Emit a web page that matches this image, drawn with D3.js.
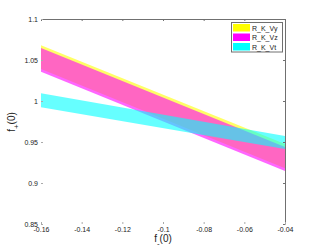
<!DOCTYPE html>
<html>
<head>
<meta charset="utf-8">
<script src="https://cdn.jsdelivr.net/npm/d3@7"></script>
<style>
  body { margin: 0; background: #fff; }
  text { font-family: "Liberation Sans", Arial, sans-serif; fill: #222; }
</style>
</head>
<body>
<script>
// band ends at f_-(0) = -0.16 and -0.04
var fMinus = [-0.16, -0.04];
var vyUpper = [1.068, 0.9476];
var vyLower = [1.039, 0.918];
var vzUpper = [1.0646, 0.944];
var vzLower = [1.0357, 0.9146];
var vtUpper = [1.0094, 0.9573];
var vtLower = [0.9923, 0.9415];

var seriesNames = ["R_K_Vy", "R_K_Vz", "R_K_Vt"];
var seriesColors = ["#ffff00", "#ff00ff", "#00ffff"];

var xTicks = [-0.16, -0.14, -0.12, -0.1, -0.08, -0.06, -0.04];
var xTickLabels = ["-0.16", "-0.14", "-0.12", "-0.1", "-0.08", "-0.06", "-0.04"];
var yTicks = [0.85, 0.9, 0.95, 1, 1.05, 1.1];
var yTickLabels = ["0.85", "0.9", "0.95", "1", "1.05", "1.1"];

var width = 315;
var height = 252;
var plotLeft = 41, plotRight = 285, plotTop = 19, plotBottom = 224;

var svg = d3.select("body").append("svg")
    .attr("width", width)
    .attr("height", height);

var xScale = d3.scaleLinear().domain([-0.16, -0.04]).range([plotLeft, plotRight]);
var yScale = d3.scaleLinear().domain([0.85, 1.1]).range([plotBottom, plotTop]);

var bands = [
    { upper: vyUpper, lower: vyLower },
    { upper: vzUpper, lower: vzLower },
    { upper: vtUpper, lower: vtLower }
];

var area = d3.area()
    .x(d => xScale(d.x))
    .y0(d => yScale(d.lo))
    .y1(d => yScale(d.hi));

bands.forEach(function (b, i) {
    var pts = fMinus.map((x, j) => ({ x: x, hi: b.upper[j], lo: b.lower[j] }));
    svg.append("path")
        .datum(pts)
        .attr("fill", seriesColors[i])
        .attr("fill-opacity", 0.6)
        .attr("stroke", "none")
        .attr("d", area);
});

// top and right box lines with inward ticks
var topAxis = svg.append("g")
    .attr("transform", "translate(0," + plotTop + ")")
    .call(d3.axisBottom(xScale).tickValues(xTicks).tickSize(2).tickSizeOuter(0).tickFormat(""));
var rightAxis = svg.append("g")
    .attr("transform", "translate(" + plotRight + ",0)")
    .call(d3.axisLeft(yScale).tickValues(yTicks).tickSize(2).tickSizeOuter(0).tickFormat(""));
[topAxis, rightAxis].forEach(function (g) {
    g.select(".domain").attr("stroke", "#707070");
    g.selectAll(".tick line").attr("stroke", "#707070");
});

// left and bottom: labels and faint ticks only
var leftAxis = svg.append("g")
    .attr("transform", "translate(" + plotLeft + ",0)")
    .call(d3.axisRight(yScale).tickValues(yTicks).tickSize(2)
        .tickFormat((d, i) => yTickLabels[i]));
leftAxis.select(".domain").remove();
leftAxis.selectAll(".tick line").attr("stroke", "#aaa");
leftAxis.selectAll(".tick text")
    .attr("x", -3)
    .attr("text-anchor", "end")
    .attr("font-size", 7)
    .attr("font-family", "Liberation Sans, Arial, sans-serif");

var bottomAxis = svg.append("g")
    .attr("transform", "translate(0," + plotBottom + ")")
    .call(d3.axisTop(xScale).tickValues(xTicks).tickSize(2)
        .tickFormat((d, i) => xTickLabels[i]));
bottomAxis.select(".domain").remove();
bottomAxis.selectAll(".tick line").attr("stroke", "#aaa");
bottomAxis.selectAll(".tick text")
    .attr("y", 8)
    .attr("dy", 0)
    .attr("font-size", 7)
    .attr("font-family", "Liberation Sans, Arial, sans-serif");

// axis titles
var xTitle = svg.append("text")
    .attr("x", 163)
    .attr("y", 242)
    .attr("text-anchor", "middle")
    .attr("font-size", 10);
xTitle.append("tspan").text("f");
xTitle.append("tspan").attr("font-size", 8).attr("dy", 4).text("-");
xTitle.append("tspan").attr("dy", -4).text("(0)");

var yTitle = svg.append("text")
    .attr("transform", "translate(15,122) rotate(-90)")
    .attr("text-anchor", "middle")
    .attr("font-size", 10);
yTitle.append("tspan").text("f");
yTitle.append("tspan").attr("font-size", 8).attr("dy", 4).text("+");
yTitle.append("tspan").attr("dy", -4).text("(0)");

// legend
var legend = svg.append("g");
legend.append("rect")
    .attr("x", 231.5).attr("y", 22.5)
    .attr("width", 51).attr("height", 29.5)
    .attr("fill", "#fff")
    .attr("stroke", "#707070");
seriesNames.forEach(function (name, i) {
    legend.append("rect")
        .attr("x", 233).attr("y", 24 + i * 9.5)
        .attr("width", 17).attr("height", 7.5)
        .attr("fill", seriesColors[i]);
    legend.append("text")
        .attr("x", 252).attr("y", 30.5 + i * 9.5)
        .attr("font-size", 7)
        .text(name);
});
</script>
</body>
</html>
